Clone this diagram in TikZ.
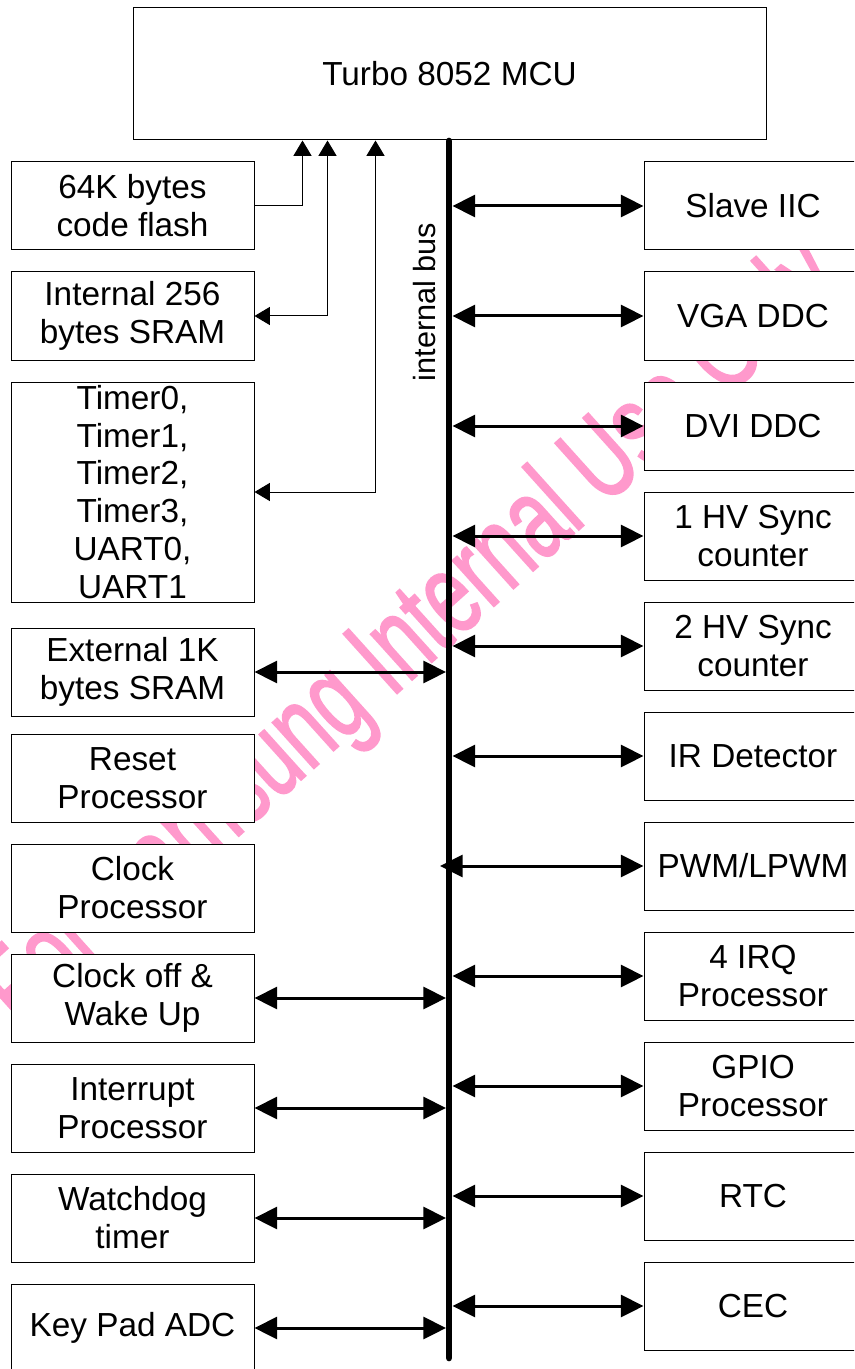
\documentclass[tikz,border=0pt]{standalone}
\usepackage{fontspec}
\setmainfont{Liberation Sans}
\newfontfamily\wmfont[FakeBold=1.8]{Liberation Sans}
\usetikzlibrary{arrows.meta,calc}
\definecolor{wmpink}{RGB}{255,153,204}
\tikzset{
  block/.style={draw, fill=white, line width=0.75pt, align=center, inner sep=0pt,
    font=\fontsize{25pt}{28.4pt}\selectfont},
  blockL/.style={block, minimum width=182.25pt, minimum height=66pt},
  blockR/.style={block, minimum width=163.5pt, minimum height=66pt},
  busarrow/.style={line width=2.25pt,
    {Triangle[length=17pt,width=16.5pt]}-{Triangle[length=17pt,width=16.5pt]}},
  tap/.style={line width=0.75pt, -{Triangle[length=11.5pt,width=13.5pt]}},
  taptwo/.style={line width=0.75pt,
    {Triangle[length=11.5pt,width=13.5pt]}-{Triangle[length=11.5pt,width=13.5pt]}},
  wmark/.style={text=wmpink, inner sep=0pt, font=\wmfont\fontsize{66pt}{70pt}\selectfont}
}
\begin{document}
\begin{tikzpicture}[x=0.75pt, y=-0.75pt]
\useasboundingbox (0,0) rectangle (854,1369);
\clip (0,0) rectangle (854,1369);
% watermark, under the boxes
\node[wmark, anchor=base, rotate=42, xscale=0.9, yscale=1.32] (wm) at (434,660) {For Samsung Internal Use Only};

\node[block, minimum width=474.75pt, minimum height=99pt] (mcu) at (449.5,74) {Turbo 8052 MCU};

% left column
\foreach \y/\nm/\txt in {206/flash/{64K bytes\\code flash}, 316/iram/{Internal 256\\bytes SRAM},
    672/xram/{External 1K\\bytes SRAM}, 778/reset/{Reset\\Processor}, 888/clk/{Clock\\Processor},
    998/clkoff/{Clock off \&\\Wake Up}, 1108/intr/{Interrupt\\Processor},
    1218/wdt/{Watchdog\\timer}, 1328/adc/{Key Pad ADC}}{
  \node[blockL] (\nm) at (132.5,\y) {\txt};
}
\node[blockL, minimum height=165pt] (timers) at (132.5,492) {Timer0,\\Timer1,\\Timer2,\\Timer3,\\UART0,\\UART1};

% right column
\foreach \y/\nm/\txt in {206/slave/{Slave IIC}, 316/vga/{VGA DDC}, 426/dvi/{DVI DDC},
    536/hvA/{1 HV Sync\\counter}, 646/hvB/{2 HV Sync\\counter}, 756/ir/{IR Detector},
    866/pwm/{PWM/LPWM}, 976/irq/{4 IRQ\\Processor}, 1086/gpio/{GPIO\\Processor},
    1196/rtc/{RTC}, 1306/cec/{CEC}}{
  \node[blockR] (\nm) at (753,\y) {\txt};
}

% internal bus
\coordinate (bustop) at (449,141);
\coordinate (busend) at (449,1358);
\coordinate (busW) at (446,0);
\coordinate (busE) at (452.5,0);
\draw[line width=5pt, line cap=round] (bustop) -- (busend);
\node[rotate=90, font=\fontsize{23pt}{26pt}\selectfont] (buslabel) at (425,302) {internal bus};

\foreach \nm in {slave,vga,dvi,hvA,hvB,ir,irq,gpio,rtc,cec}
  \draw[busarrow] (\nm.west -| busE) -- (\nm.west);
\draw[busarrow] ($(pwm.west -| busW)+(-6,0)$) -- (pwm.west);
\foreach \nm in {xram,clkoff,intr,wdt,adc}
  \draw[busarrow] (\nm.east) -- (\nm.east -| busW);

% memories and timers to the MCU
\draw[tap] (flash.east) -| ($(mcu.south west)+(170,0)$);
\draw[taptwo] (iram.east) -| ($(mcu.south west)+(195,0)$);
\draw[taptwo] (timers.east) -| ($(mcu.south west)+(243,0)$);
\end{tikzpicture}
\end{document}
